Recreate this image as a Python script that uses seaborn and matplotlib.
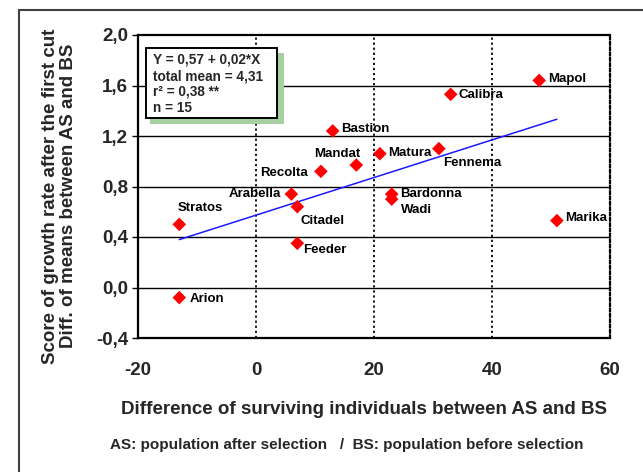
import matplotlib
matplotlib.use("Agg")
import matplotlib.pyplot as plt
import matplotlib.patches as mpatches
import seaborn as sns
import numpy as np
import pandas as pd

# ---- data ----
cultivars = ["Mapol", "Calibra", "Bastion", "Matura", "Fennema", "Mandat", "Recolta",
             "Arabella", "Citadel", "Bardonna", "Wadi", "Stratos", "Marika", "Feeder", "Arion"]
diff_surviving = [48, 33, 13, 21, 31, 17, 11, 6, 7, 23, 23, -13, 51, 7, -13]
score_growth = [1.64, 1.53, 1.24, 1.06, 1.10, 0.97, 0.92, 0.74, 0.64, 0.74, 0.70, 0.50, 0.53, 0.35, -0.08]

fit_intercept = 0.573
fit_slope = 0.0149
fit_x_range = [-13, 51]

x_ticks = [-20, 0, 20, 40, 60]
x_tick_labels = ["-20", "0", "20", "40", "60"]
y_ticks = [-0.4, 0.0, 0.4, 0.8, 1.2, 1.6, 2.0]
y_tick_labels = ["-0,4", "0,0", "0,4", "0,8", "1,2", "1,6", "2,0"]

stats_lines = ["Y = 0,57 + 0,02*X", "total mean = 4,31", "r\u00b2 = 0,38 **", "n = 15"]

# label placement (pixel offsets, alignment)
label_offsets = {
    "Mapol": (9, 1, "left"), "Calibra": (8, -1, "left"), "Bastion": (8, 2, "left"),
    "Matura": (8, 1, "left"), "Fennema": (4, -14, "left"), "Mandat": (4, 11, "right"),
    "Recolta": (-13, -2, "right"), "Arabella": (-10, 0, "right"), "Citadel": (3, -14, "left"),
    "Bardonna": (8, 0, "left"), "Wadi": (9, -11, "left"), "Stratos": (-2, 16, "left"),
    "Marika": (8, 3, "left"), "Feeder": (6, -7, "left"), "Arion": (10, -1, "left"),
}

df = pd.DataFrame({"cultivar": cultivars, "x": diff_surviving, "y": score_growth})
fx = np.array(fit_x_range, dtype=float)
fit_df = pd.DataFrame({"x": fx, "y": fit_intercept + fit_slope * fx})

sns.set_theme(style="white")
plt.rcParams["font.family"] = ["Liberation Sans", "DejaVu Sans"]
plt.rcParams["font.weight"] = "bold"

fig = plt.figure(figsize=(6.43, 4.72), dpi=100)
ax = fig.add_axes([138 / 643, 1 - 338 / 472, 472 / 643, 303 / 472])

# outer frame
fig.patches.append(mpatches.Rectangle((19 / 643, -0.05), 1.1, 1 - 9.5 / 472 + 0.05,
                                      transform=fig.transFigure, fill=False,
                                      edgecolor="#404040", lw=1.5, zorder=0))

ax.set_xlim(-20, 60)
ax.set_ylim(-0.4, 2.0)

# grid
for yv in y_ticks[1:-1]:
    ax.axhline(yv, color="black", lw=1.0, zorder=1)
for xv in x_ticks[1:-1]:
    ax.axvline(xv, color="black", lw=1.3, ls=(0, (1.2, 1.6)), zorder=1)

sns.lineplot(data=fit_df, x="x", y="y", ax=ax, color="#1a1aff", lw=1.1, zorder=3)
sns.scatterplot(data=df, x="x", y="y", ax=ax, marker="D", color="#ff0000",
                s=48, edgecolor="none", zorder=4)

for name, xv, yv in zip(cultivars, diff_surviving, score_growth):
    dx, dy, ha = label_offsets[name]
    ax.annotate(name, (xv, yv), xytext=(dx, dy), textcoords="offset pixels",
                ha=ha, va="center", fontsize=9.5, fontweight="bold", color="black", zorder=5)

ax.set_xticks(x_ticks)
ax.set_xticklabels(x_tick_labels, fontsize=13.5, fontweight="bold")
ax.set_yticks(y_ticks)
ax.set_yticklabels(y_tick_labels, fontsize=13.5, fontweight="bold")
ax.tick_params(axis="x", length=0, pad=17)
ax.tick_params(axis="y", length=4, width=1, direction="out", left=True, pad=3, color="black")
ax.set_xlabel("")
ax.set_ylabel("")

for s in ["left", "top", "bottom"]:
    ax.spines[s].set_color("black")
    ax.spines[s].set_linewidth(1.6)
ax.spines["right"].set_color("black")
ax.spines["right"].set_linewidth(1.6)
ax.spines["right"].set_linestyle((0, (1.2, 1.2)))

# stats box with shadow
ax.add_patch(mpatches.Rectangle((0.0254, 0.706), 0.309 - 0.0254, 0.9416 - 0.706,
                                transform=ax.transAxes, facecolor="#a8cfa2",
                                edgecolor="none", zorder=6))
ax.add_patch(mpatches.Rectangle((0.017, 0.726), 0.2945 - 0.017, 0.957 - 0.726,
                                transform=ax.transAxes, facecolor="white",
                                edgecolor="black", lw=1.4, zorder=7))
for line, yy in zip(stats_lines, [0.92, 0.862, 0.815, 0.758]):
    ax.text(0.031, yy, line, transform=ax.transAxes, ha="left", va="center",
            fontsize=9.8, fontweight="bold", zorder=8)

fig.text(59.5 / 643, 1 - 196 / 472,
         "Score of growth rate after the first cut\nDiff. of means between AS and BS",
         rotation=90, ha="center", va="center", multialignment="center",
         fontsize=13.5, fontweight="bold", linespacing=1.1)
fig.text(364 / 643, 1 - 409 / 472, "Difference of surviving individuals between AS and BS",
         ha="center", va="center", fontsize=13.5, fontweight="bold")
fig.text(346.5 / 643, 1 - 445 / 472,
         "AS: population after selection   /  BS: population before selection",
         ha="center", va="center", fontsize=11, fontweight="bold")

fig.savefig("out.png", dpi=100, facecolor="white")
